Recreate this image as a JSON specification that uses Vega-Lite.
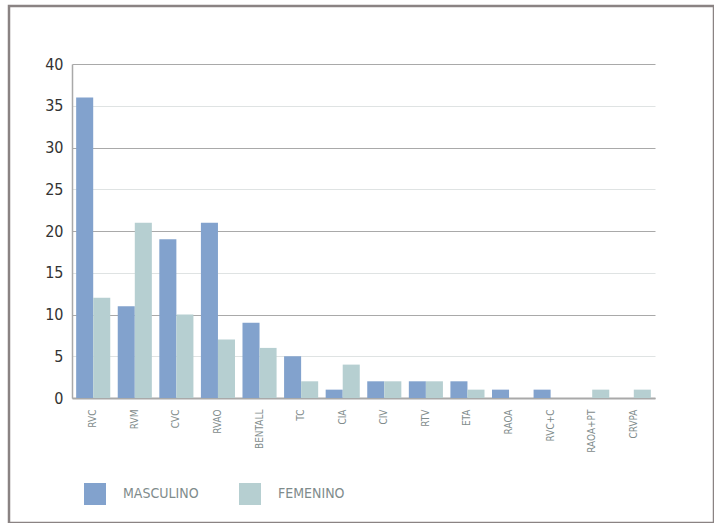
{
  "$schema": "https://vega.github.io/schema/vega-lite/v6.json",
  "autosize": "none",
  "width": 705,
  "height": 517,
  "padding": {"left": 9, "top": 6, "right": 0, "bottom": 0},
  "background": "#ffffff",
  "config": {
    "view": {"stroke": "#8a8383", "strokeWidth": 2.5},
    "font": "DejaVu Sans Condensed"
  },
  "data": {
    "values": [
      {"proc": "RVC", "sexo": "MASCULINO", "n": 36},
      {"proc": "RVC", "sexo": "FEMENINO", "n": 12},
      {"proc": "RVM", "sexo": "MASCULINO", "n": 11},
      {"proc": "RVM", "sexo": "FEMENINO", "n": 21},
      {"proc": "CVC", "sexo": "MASCULINO", "n": 19},
      {"proc": "CVC", "sexo": "FEMENINO", "n": 10},
      {"proc": "RVAO", "sexo": "MASCULINO", "n": 21},
      {"proc": "RVAO", "sexo": "FEMENINO", "n": 7},
      {"proc": "BENTALL", "sexo": "MASCULINO", "n": 9},
      {"proc": "BENTALL", "sexo": "FEMENINO", "n": 6},
      {"proc": "TC", "sexo": "MASCULINO", "n": 5},
      {"proc": "TC", "sexo": "FEMENINO", "n": 2},
      {"proc": "CIA", "sexo": "MASCULINO", "n": 1},
      {"proc": "CIA", "sexo": "FEMENINO", "n": 4},
      {"proc": "CIV", "sexo": "MASCULINO", "n": 2},
      {"proc": "CIV", "sexo": "FEMENINO", "n": 2},
      {"proc": "RTV", "sexo": "MASCULINO", "n": 2},
      {"proc": "RTV", "sexo": "FEMENINO", "n": 2},
      {"proc": "ETA", "sexo": "MASCULINO", "n": 2},
      {"proc": "ETA", "sexo": "FEMENINO", "n": 1},
      {"proc": "RAOA", "sexo": "MASCULINO", "n": 1},
      {"proc": "RAOA", "sexo": "FEMENINO", "n": 0},
      {"proc": "RVC+C", "sexo": "MASCULINO", "n": 1},
      {"proc": "RVC+C", "sexo": "FEMENINO", "n": 0},
      {"proc": "RAOA+PT", "sexo": "MASCULINO", "n": 0},
      {"proc": "RAOA+PT", "sexo": "FEMENINO", "n": 1},
      {"proc": "CRVPA", "sexo": "MASCULINO", "n": 0},
      {"proc": "CRVPA", "sexo": "FEMENINO", "n": 1}
    ]
  },
  "mark": {"type": "bar"},
  "encoding": {
    "x": {
      "field": "proc",
      "type": "nominal",
      "sort": null,
      "scale": {"range": [63, 646], "paddingInner": 0.18, "paddingOuter": 0.1},
      "axis": {
        "title": null,
        "orient": "bottom",
        "offset": -125,
        "ticks": false,
        "domainColor": "#a9a9a9",
        "domainWidth": 2,
        "labelAngle": -90,
        "labelPadding": 11,
        "labelFontSize": 10,
        "labelColor": "#7f8c8c",
        "grid": false
      }
    },
    "xOffset": {
      "field": "sexo",
      "type": "nominal",
      "sort": ["MASCULINO", "FEMENINO"],
      "scale": {"paddingInner": 0, "paddingOuter": 0}
    },
    "y": {
      "field": "n",
      "type": "quantitative",
      "scale": {"domain": [0, 40], "range": [392, 58], "nice": false},
      "axis": {
        "title": null,
        "orient": "left",
        "offset": -63,
        "values": [0, 5, 10, 15, 20, 25, 30, 35, 40],
        "ticks": false,
        "domainColor": "#a9a9a9",
        "domainWidth": 1.5,
        "labelPadding": 9,
        "labelFontSize": 16,
        "labelColor": "#333333",
        "grid": true,
        "gridColor": {"condition": {"test": "datum.value % 10 === 0", "value": "#a9a9a9"}, "value": "#dfe3e3"},
        "gridWidth": 1.2
      }
    },
    "color": {
      "field": "sexo",
      "type": "nominal",
      "sort": ["MASCULINO", "FEMENINO"],
      "scale": {"domain": ["MASCULINO", "FEMENINO"], "range": ["#82a2cd", "#b6cfd1"]},
      "legend": {
        "title": null,
        "orient": "none",
        "direction": "horizontal",
        "legendX": 75,
        "legendY": 477,
        "padding": 0,
        "symbolType": "square",
        "symbolSize": 484,
        "symbolStrokeWidth": 0,
        "symbolOpacity": 1,
        "labelFontSize": 14,
        "labelColor": "#7f8c8c",
        "labelOffset": 17,
        "columnPadding": 40
      }
    }
  }
}
